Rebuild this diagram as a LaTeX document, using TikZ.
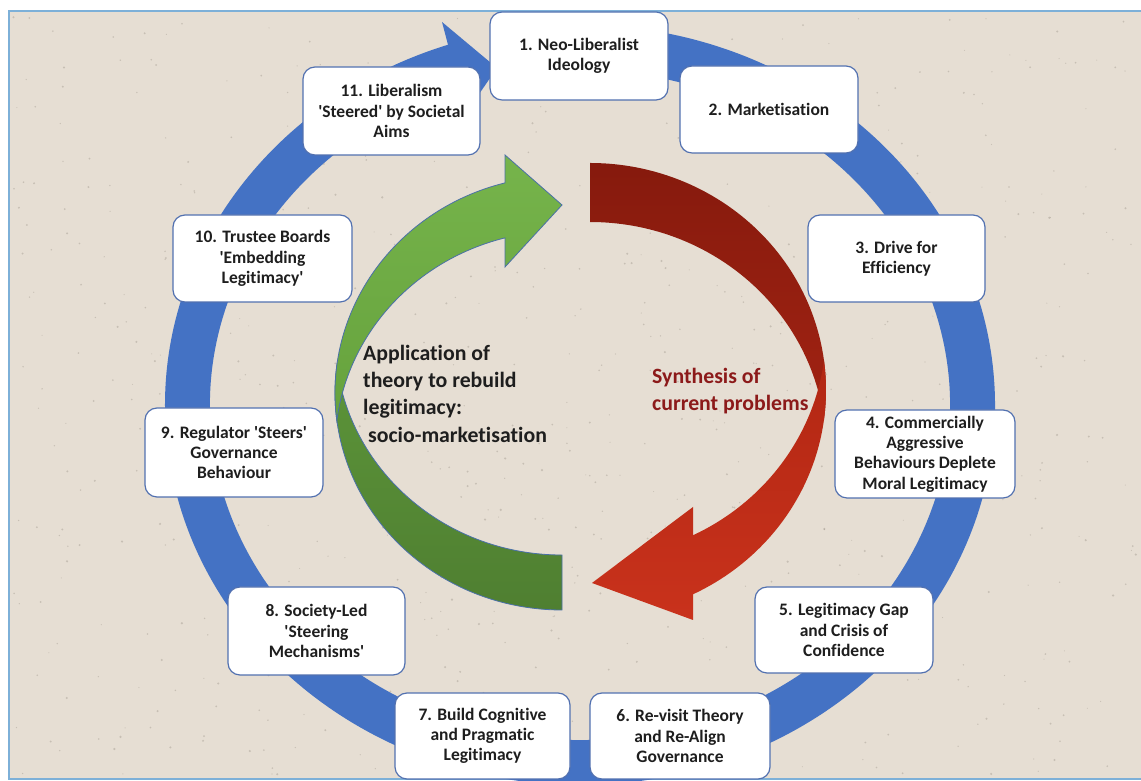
\documentclass[tikz,border=0pt]{standalone}
\usepackage{fontspec}
\newfontfamily\cf{Carlito}[Ligatures=NoCommon]
\usetikzlibrary{calc}
\definecolor{bgc}{HTML}{E6DED3}
\definecolor{speck}{HTML}{8F877C}
\definecolor{ringblue}{HTML}{4472C4}
\definecolor{boxedge}{HTML}{5271B0}
\definecolor{txt}{HTML}{1E1E1E}
\definecolor{gLightA}{HTML}{76B44B}
\definecolor{gLightB}{HTML}{66A23D}
\definecolor{gDarkA}{HTML}{5C9439}
\definecolor{gDarkB}{HTML}{4F7F31}
\definecolor{gEdge}{HTML}{4A70A8}
\definecolor{rDarkA}{HTML}{861A0D}
\definecolor{rDarkB}{HTML}{A22313}
\definecolor{rLightA}{HTML}{B22713}
\definecolor{rLightB}{HTML}{C9321C}
\definecolor{redtxt}{HTML}{8C1A1A}
\definecolor{framec}{HTML}{7DB0D8}
\begin{document}
\begin{tikzpicture}[x=1pt,y=1pt,
  stage/.style={draw=boxedge, line width=1.2pt, fill=white, rounded corners=12pt,
    align=center, font=\cf\bfseries\fontsize{17.5}{20.3}\selectfont, text=txt, inner sep=2pt},
  midtext/.style={font=\cf\bfseries\fontsize{21.8}{27.3}\selectfont, align=left,
    inner sep=0pt, text=txt, anchor=west}]
% canvas and background
\useasboundingbox (0,0) rectangle (1141,781);
\fill[white] (0,0) rectangle (1141,781);
\fill[bgc] (9,2) rectangle (1141,770);
\pgfmathsetseed{11}
\foreach \i in {1,...,700}{
  \fill[speck, opacity=0.35] ({12+rnd*1125},{5+rnd*762}) circle ({0.5+rnd*0.7});
}
\draw[framec, line width=1.5pt] (1141,770) -- (9,770) -- (9,2) -- (1141,2);
% blue ring with arrowhead
\coordinate (rc) at (580,376);
\fill[ringblue] ($(rc)+(95:415 and 380)$)
  arc[start angle=95, end angle=-253, x radius=415, y radius=380]
  -- ($(rc)+(-253:370 and 335)$)
  arc[start angle=-253, end angle=95, x radius=370, y radius=335] -- cycle;
\fill[ringblue] (442,759) -- (497,713) -- (466,668) -- cycle;
% green curved arrow
\path[top color=gDarkA, bottom color=gDarkB, draw=gEdge, line width=0.8pt]
  (562,171) arc[start angle=-90, end angle=-187.28, x radius=227, y radius=217]
  arc[start angle=187.28, end angle=270, x radius=227, y radius=217] -- cycle;
\path[top color=gLightA, bottom color=gLightB, draw=gEdge, line width=0.8pt]
  (505,598.1) arc[start angle=104.54, end angle=187.28, x radius=227, y radius=217]
  arc[start angle=172.72, end angle=104.54, x radius=227, y radius=217]
  -- (505,514) -- (562,576) -- (505,626) -- cycle;
% red curved arrow
\path[top color=rDarkA, bottom color=rDarkB]
  (590,618) arc[start angle=90, end angle=-7.47, x radius=236, y radius=227]
  arc[start angle=7.47, end angle=90, x radius=236, y radius=227] -- cycle;
\path[top color=rLightA, bottom color=rLightB]
  (693,186.7) arc[start angle=-64.12, end angle=7.47, x radius=236, y radius=227]
  arc[start angle=-7.47, end angle=-64.12, x radius=236, y radius=227]
  -- (693,274) -- (592,198) -- (693,161) -- cycle;
% stage boxes
\node[stage, minimum width=178pt, minimum height=88pt] (s1) at (579,725) {1. Neo-Liberalist\\Ideology};
\node[stage, minimum width=178pt, minimum height=87pt] (s2) at (769,671.5) {2. Marketisation};
\node[stage, minimum width=177pt, minimum height=87pt] (s3) at (896.5,522.5) {3. Drive for\\Efficiency};
\node[stage, minimum width=180pt, minimum height=88pt] (s4) at (925,327) {4. Commercially\\Aggressive\\Behaviours Deplete\\Moral Legitimacy};
\node[stage, minimum width=178pt, minimum height=86pt] (s5) at (844,151) {5. Legitimacy Gap\\and Crisis of\\Confidence};
\node[stage, minimum width=180pt, minimum height=86pt] (s6) at (680,45) {6. Re-visit Theory\\and Re-Align\\Governance};
\node[stage, minimum width=175pt, minimum height=86pt] (s7) at (482.5,45) {7. Build Cognitive\\and Pragmatic\\Legitimacy};
\node[stage, minimum width=177pt, minimum height=88pt] (s8) at (316.5,150) {8. Society-Led\\'Steering\\Mechanisms'};
\node[stage, minimum width=178pt, minimum height=89pt] (s9) at (234,328.5) {9. Regulator 'Steers'\\Governance\\Behaviour};
\node[stage, minimum width=179pt, minimum height=87pt] (s10) at (262.5,522.5) {10. Trustee Boards\\'Embedding\\Legitimacy'};
\node[stage, minimum width=177pt, minimum height=88pt] (s11) at (391.5,670) {11. Liberalism\\'Steered' by Societal\\Aims};
% centre texts
\node[midtext] (apply) at (363,387.5) {Application of\\theory to rebuild\\legitimacy:\\\hspace*{5pt}socio-marketisation};
\node[midtext, text=redtxt] (synth) at (652,390) {Synthesis of\\current problems};
\end{tikzpicture}
\end{document}
